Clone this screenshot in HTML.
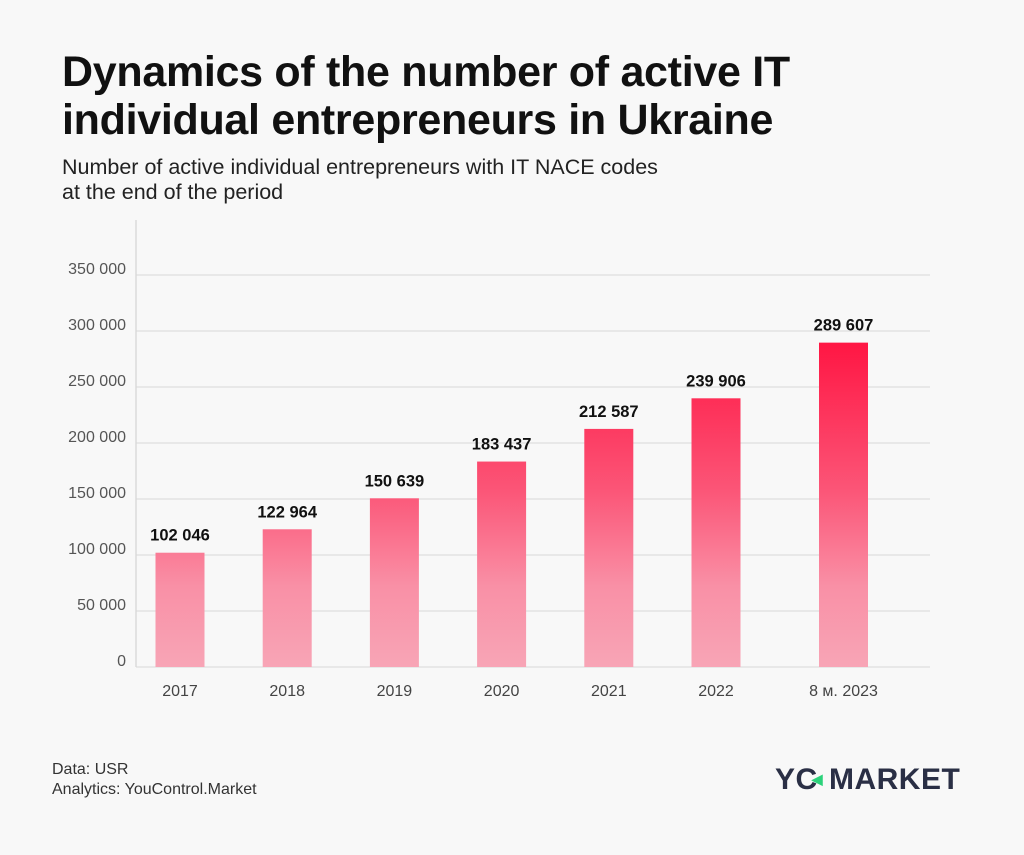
<!DOCTYPE html>
<html><head><meta charset="utf-8"><style>
body{margin:0;background:#f8f8f8;font-family:"Liberation Sans",sans-serif;}
#wrap{position:relative;width:1024px;height:855px;overflow:hidden;background:#f8f8f8}
h1{position:absolute;left:62px;top:48px;margin:0;font-size:43px;line-height:48px;font-weight:bold;color:#111;letter-spacing:-0.3px}
.sub{position:absolute;left:62px;top:155px;font-size:21.5px;line-height:25px;color:#222}
.foot{position:absolute;left:52px;top:760px;font-size:16px;line-height:20px;color:#333}
.logo{position:absolute;left:775px;top:763px;font-size:30px;font-weight:bold;color:#2a2f45;letter-spacing:0.5px}
</style></head><body>
<div id="wrap">
<h1>Dynamics of the number of active IT<br>individual entrepreneurs in Ukraine</h1>
<div class="sub">Number of active individual entrepreneurs with IT NACE codes<br>at the end of the period</div>
<svg id="chart" width="1024" height="855" style="position:absolute;left:0;top:0">
<defs><linearGradient id="g" gradientUnits="userSpaceOnUse" x1="0" y1="345" x2="0" y2="667">
<stop offset="0" stop-color="#ff1744"/><stop offset="0.45" stop-color="#fb5577"/><stop offset="0.75" stop-color="#f990a6"/><stop offset="1" stop-color="#f8a5b6"/></linearGradient></defs>
</svg>
<div class="foot">Data: USR<br>Analytics: YouControl.Market</div>
<div class="logo">YC<span style="position:relative;left:-6px;color:#2bd27a;font-size:14px;top:-5px">◀</span>MARKET</div>
</div>
<script>
const categories=["2017","2018","2019","2020","2021","2022","8 м. 2023"];
const values=[102046,122964,150639,183437,212587,239906,289607];
const labels=["102 046","122 964","150 639","183 437","212 587","239 906","289 607"];
const ticks=[0,50000,100000,150000,200000,250000,300000,350000];
const tickLabels=["0","50 000","100 000","150 000","200 000","250 000","300 000","350 000"];
const NS="http://www.w3.org/2000/svg";
const svg=document.getElementById('chart');
const y=v=>667-v*56/50000;
const x=i=>i<6?180+i*107.2:843.5;
function mk(t,a,txt){const e=document.createElementNS(NS,t);for(const k in a)e.setAttribute(k,a[k]);if(txt!==undefined)e.textContent=txt;svg.appendChild(e);return e;}
const ax=mk('line',{x1:136,x2:136,y1:220,y2:667,stroke:'#ccc'});


ticks.forEach((t,i)=>{
 const l=mk('line',{x1:136,x2:930,y1:y(t),y2:y(t),stroke:'#d8d8d8'});
 
 
 const tx=mk('text',{x:126,y:y(t)-1,'text-anchor':'end','font-size':16,fill:'#555'},tickLabels[i]);
 
 
});
values.forEach((v,i)=>{
 const b=mk('rect',{x:x(i)-24.5,y:y(v),width:49,height:667-y(v),fill:'url(#g)'});
 
 
 const lt=mk('text',{x:x(i),y:y(v)-12,'text-anchor':'middle','font-size':16.5,'font-weight':'bold',fill:'#111'},labels[i]);
 
 
 const ct=mk('text',{x:x(i),y:696,'text-anchor':'middle','font-size':16,fill:'#444'},categories[i]);
 
 
});
</script>
</body></html>
